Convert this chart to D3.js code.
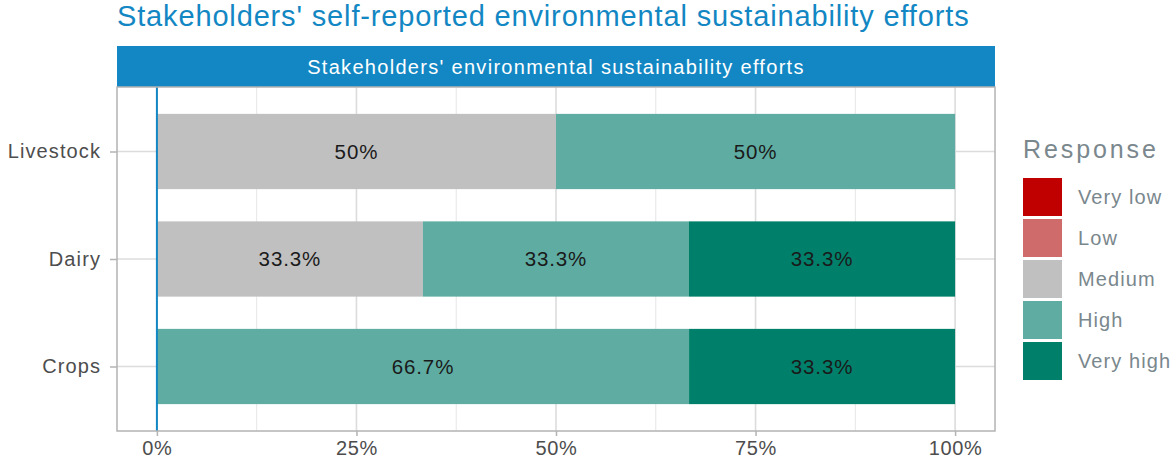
<!DOCTYPE html>
<html><head><meta charset="utf-8">
<script src="https://cdn.jsdelivr.net/npm/d3@7"></script>
<style>body{margin:0;background:#fff}svg{display:block;font-family:"Liberation Sans",Arial,sans-serif}</style>
</head><body><svg id="c" width="1176" height="468"></svg>
<script>
const categories = ["Livestock", "Dairy", "Crops"];
const levels = ["Very low", "Low", "Medium", "High", "Very high"];
const veryLow  = [0, 0, 0];
const low      = [0, 0, 0];
const medium   = [50, 33.33, 0];
const high     = [50, 33.33, 66.67];
const veryHigh = [0, 33.34, 33.33];
const colors = ["#c00000", "#cf6b6b", "#c0c0c0", "#5fada2", "#00806a"];
const xTicks = [0, 25, 50, 75, 100];
const xMinor = [12.5, 37.5, 62.5, 87.5];
const title = "Stakeholders' self-reported environmental sustainability efforts";
const stripLabel = "Stakeholders' environmental sustainability efforts";
const legendTitle = "Response";

const series = [veryLow, low, medium, high, veryHigh];
const rows = categories.map((c, i) => {
  const r = {cat: c};
  levels.forEach((l, j) => r[l] = series[j][i]);
  return r;
});
const stacked = d3.stack().keys(levels)(rows);

const svg = d3.select("#c");
const P = {l: 117, r: 995, t: 87, b: 431};
const x = d3.scaleLinear().domain([-5, 105]).range([P.l, P.r]);
const yi = d3.scaleLinear().domain([0.4, 3.6]).range([P.t, P.b]);
const y = c => yi(categories.indexOf(c) + 1);
const bw = yi(0.7) - yi(0);
const color = d3.scaleOrdinal().domain(levels).range(colors);

// title
svg.append("text").attr("x", 117).attr("y", 26).attr("fill", "#1287c3")
  .attr("font-size", 29).attr("letter-spacing", 0.85).text(title);

// strip
svg.append("rect").attr("x", P.l).attr("y", 46).attr("width", P.r - P.l).attr("height", P.t - 46).attr("fill", "#1287c3");
svg.append("text").attr("x", (P.l + P.r) / 2).attr("y", 66.5).attr("dy", "0.35em").attr("text-anchor", "middle")
  .attr("fill", "#fff").attr("font-size", 20).attr("letter-spacing", 1.3).text(stripLabel);

// grid
const g = svg.append("g");
g.selectAll(".mn").data(xMinor).join("line").attr("x1", d => x(d)).attr("x2", d => x(d))
  .attr("y1", P.t).attr("y2", P.b).attr("stroke", "#e6e6e6").attr("stroke-width", 1);
g.selectAll(".mj").data(xTicks).join("line").attr("x1", d => x(d)).attr("x2", d => x(d))
  .attr("y1", P.t).attr("y2", P.b).attr("stroke", "#dcdcdc").attr("stroke-width", 1.6);
g.selectAll(".hy").data(categories).join("line").attr("x1", P.l).attr("x2", P.r)
  .attr("y1", d => y(d)).attr("y2", d => y(d)).attr("stroke", "#dcdcdc").attr("stroke-width", 1.6);

// bars
const fmt = v => (Math.abs(v - Math.round(v)) < 1e-9 ? d3.format(".0f")(v) : d3.format(".1f")(v)) + "%";
stacked.forEach(s => {
  const key = s.key;
  const segs = s.map((d, i) => ({cat: categories[i], x0: d[0], x1: d[1], v: d[1] - d[0]})).filter(d => d.v > 0);
  svg.append("g").selectAll("rect").data(segs).join("rect")
    .attr("x", d => x(d.x0)).attr("width", d => x(d.x1) - x(d.x0))
    .attr("y", d => y(d.cat) - bw / 2).attr("height", bw).attr("fill", color(key));
  svg.append("g").selectAll("text").data(segs).join("text")
    .attr("x", d => x((d.x0 + d.x1) / 2)).attr("y", d => y(d.cat)).attr("dy", "0.36em")
    .attr("text-anchor", "middle").attr("font-size", 20.5).attr("letter-spacing", 0.9).attr("fill", "#1a1a1a")
    .text(d => fmt(Math.round(d.v * 10) / 10));
});

// zero line
svg.append("line").attr("x1", x(0)).attr("x2", x(0)).attr("y1", P.t).attr("y2", P.b)
  .attr("stroke", "#1287c3").attr("stroke-width", 2);

// panel border
svg.append("rect").attr("x", P.l).attr("y", P.t).attr("width", P.r - P.l).attr("height", P.b - P.t)
  .attr("fill", "none").attr("stroke", "#b3b3b3").attr("stroke-width", 1.5);

// x axis
const xa = svg.append("g").attr("transform", `translate(0,${P.b})`)
  .call(d3.axisBottom(x).tickValues(xTicks).tickFormat(d => d + "%").tickSize(5).tickPadding(5));
xa.select(".domain").remove();
xa.selectAll("line").attr("stroke", "#b3b3b3").attr("stroke-width", 1.5);
xa.selectAll("text").attr("font-size", 20).attr("letter-spacing", 0.6).attr("fill", "#4d4d4d").attr("font-family", null);

// y axis
const ya = svg.append("g").attr("transform", `translate(${P.l},0)`)
  .call(d3.axisLeft(d3.scalePoint().domain(categories).range([y(categories[0]), y(categories[2])])).tickSize(7).tickPadding(9));
ya.select(".domain").remove();
ya.selectAll("line").attr("stroke", "#b3b3b3").attr("stroke-width", 1.5);
ya.selectAll("text").attr("font-size", 20).attr("letter-spacing", 1.1).attr("fill", "#4d4d4d").attr("font-family", null);

// legend
const lg = svg.append("g");
lg.append("text").attr("x", 1023).attr("y", 158).attr("font-size", 25).attr("letter-spacing", 2.9).attr("fill", "#7a878d").text(legendTitle);
const ks = lg.selectAll("g.k").data(levels).join("g").attr("transform", (d, i) => `translate(1023,${178 + i * 41})`);
ks.append("rect").attr("width", 39).attr("height", 38).attr("fill", d => color(d));
ks.append("text").attr("x", 55).attr("y", 19).attr("dy", "0.36em").attr("font-size", 20).attr("fill", "#7a878d")
  .attr("letter-spacing", 1.1).text(d => d);
</script></body></html>
